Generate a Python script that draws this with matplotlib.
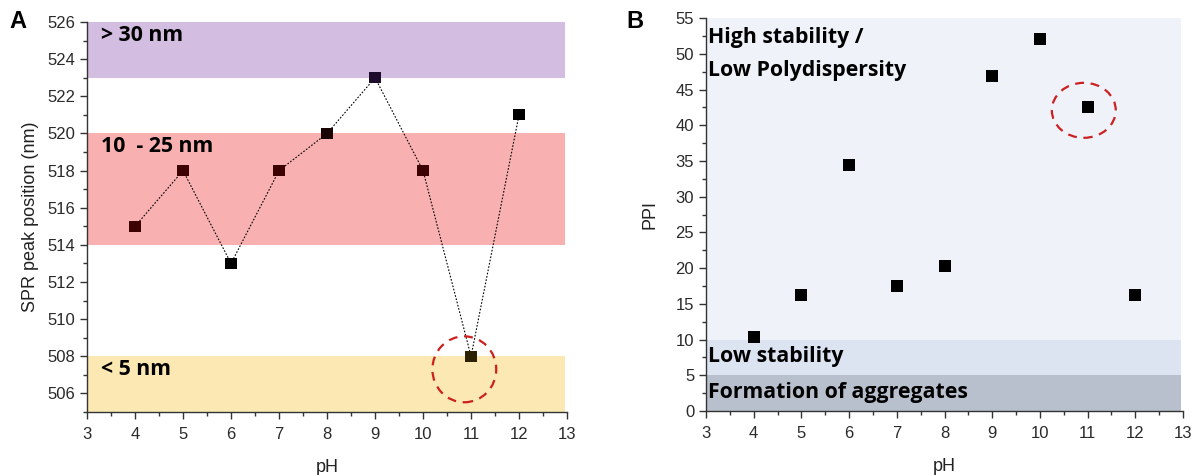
import matplotlib.pyplot as plt
from matplotlib.patches import Ellipse
from matplotlib.ticker import MultipleLocator

# SPR peak position vs pH
ph = [4, 5, 6, 7, 8, 9, 10, 11, 12]
spr_peak = [515, 518, 513, 518, 520, 523, 518, 508, 521]
spr_colors = ['#3d0303', '#3d0303', '#000000', '#3d0303', '#1a0505',
              '#1e0c2c', '#3d0303', '#2e2205', '#000000']

# size bands (nm ranges) for panel A
size_bands = [(523, 526, '#d3bde0', '> 30 nm'),
              (514, 520, '#f9b0b0', '10  - 25 nm'),
              (505, 508, '#fce8b2', '< 5 nm')]

# PPI vs pH
ppi = [10.3, 16.2, 34.4, 17.5, 20.3, 46.9, 52.1, 42.6, 16.2]

# stability regions for panel B
ppi_bands = [(10, 55, '#eff3f9'), (5, 10, '#dce3f1'), (0, 5, '#b9c0cd')]

plt.rcParams['font.family'] = ['Liberation Sans', 'DejaVu Sans']
label_font = ['Open Sans', 'DejaVu Sans']
axis_col = '#333333'
band_fs = 15.3

fig = plt.figure(figsize=(11.94, 4.75), dpi=100)
ax1 = fig.add_axes([0.0729, 0.1326, 0.402, 0.821])
ax2 = fig.add_axes([0.5913, 0.1347, 0.3995, 0.827])


def style_axis(ax):
    for s in ['top', 'right']:
        ax.spines[s].set_visible(False)
    for s in ['left', 'bottom']:
        ax.spines[s].set_color(axis_col)
        ax.spines[s].set_linewidth(1.0)
    ax.tick_params(which='major', direction='out', length=5, width=1,
                   color=axis_col, labelcolor='#2a2a2a', labelsize=12)
    ax.tick_params(axis='x', which='major', pad=6)
    ax.tick_params(which='minor', direction='out', length=3, width=1,
                   color=axis_col)
    ax.set_xlim(3, 13)
    ax.xaxis.set_major_locator(MultipleLocator(1))
    ax.xaxis.set_minor_locator(MultipleLocator(0.5))
    ax.set_xlabel('pH', fontsize=13, color='#222222', labelpad=12)


# panel A
for lo, hi, col, txt in size_bands:
    ax1.fill_between([3.03, 12.95], lo, hi, color=col, lw=0, zorder=0)
    ax1.text(3.3, hi - 0.7, txt, fontsize=band_fs, fontweight='bold',
             family=label_font, va='center', ha='left', color='black')
ax1.plot(ph, spr_peak, ls=(0, (1.5, 1.5)), color='black', lw=0.8, zorder=2)
ax1.scatter(ph, spr_peak, marker='s', s=65, c=spr_colors, zorder=3, lw=0)
ax1.add_patch(Ellipse((10.86, 507.3), 1.33, 3.55, fill=False, ec='#cc2020',
                      lw=1.6, ls=(0, (4, 3)), zorder=4))
ax1.set_ylim(505, 526)
ax1.yaxis.set_major_locator(MultipleLocator(2))
ax1.yaxis.set_minor_locator(MultipleLocator(1))
ax1.set_ylabel('SPR peak position (nm)', fontsize=13, color='#222222',
               labelpad=6)
style_axis(ax1)

# panel B
for lo, hi, col in ppi_bands:
    ax2.fill_between([3.03, 12.95], lo, hi, color=col, lw=0, zorder=0)
ax2.text(3.05, 52.3, 'High stability /', fontsize=band_fs, fontweight='bold',
         family=label_font, va='center', ha='left')
ax2.text(3.05, 47.7, 'Low Polydispersity', fontsize=band_fs,
         fontweight='bold', family=label_font, va='center', ha='left')
ax2.text(3.05, 7.6, 'Low stability', fontsize=band_fs, fontweight='bold',
         family=label_font, va='center', ha='left')
ax2.text(3.05, 2.6, 'Formation of aggregates', fontsize=band_fs,
         fontweight='bold', family=label_font, va='center', ha='left')
ax2.scatter(ph, ppi, marker='s', s=65, c='black', zorder=3, lw=0)
ax2.add_patch(Ellipse((10.92, 42.1), 1.34, 7.7, fill=False, ec='#cc2020',
                      lw=1.6, ls=(0, (4, 3)), zorder=4))
ax2.set_ylim(0, 55)
ax2.yaxis.set_major_locator(MultipleLocator(5))
ax2.yaxis.set_minor_locator(MultipleLocator(2.5))
ax2.set_ylabel('PPI', fontsize=13, color='#222222', labelpad=12)
style_axis(ax2)

fig.text(0.008, 0.955, 'A', fontsize=17, fontweight='bold', va='center')
fig.text(0.525, 0.955, 'B', fontsize=17, fontweight='bold', va='center')

fig.savefig('out.png', dpi=100)
